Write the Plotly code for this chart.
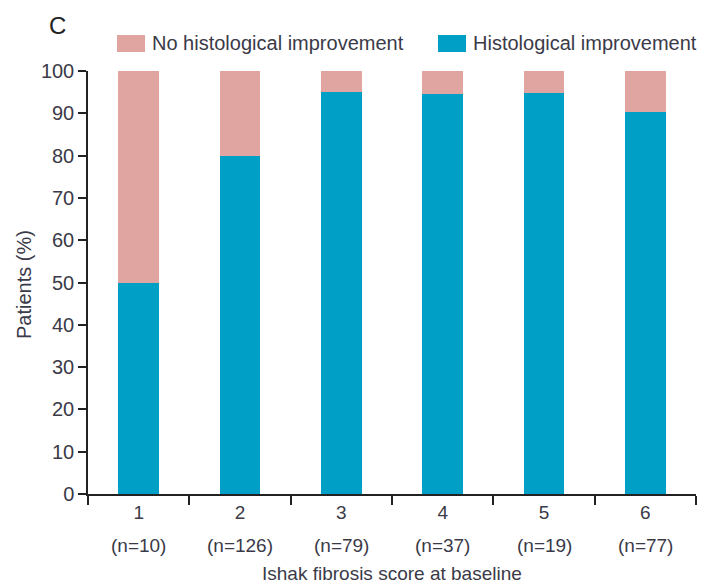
import plotly.graph_objects as go

scores = ["1", "2", "3", "4", "5", "6"]
n_values = [10, 126, 79, 37, 19, 77]
improvement = [50, 80, 95, 94.6, 94.7, 90.3]
no_improvement = [100 - v for v in improvement]
y_ticks = [0, 10, 20, 30, 40, 50, 60, 70, 80, 90, 100]

PINK = "#E0A5A0"
TEAL = "#00A0C6"
TXT = "#3a3a48"
FONT = "Liberation Sans, Arial"

L, R, T, B = 88, 13, 71, 90
W, H = 709, 584
PW, PH = W - L - R, H - T - B


def px(xp):
    return (xp - L) / PW


def py(yp):
    return (H - B - yp) / PH


fig = go.Figure()
fig.add_trace(go.Bar(x=scores, y=improvement, name="Histological improvement",
                     marker=dict(color=TEAL, line=dict(width=0)), showlegend=False))
fig.add_trace(go.Bar(x=scores, y=no_improvement, name="No histological improvement",
                     marker=dict(color=PINK, line=dict(width=0)), showlegend=False))

fig.update_layout(
    barmode="stack", bargap=0.6,
    width=W, height=H,
    margin=dict(l=L, r=R, t=T, b=B, autoexpand=False),
    plot_bgcolor="white", paper_bgcolor="white",
    font=dict(family=FONT, size=19, color=TXT),
)
fig.update_xaxes(
    type="category", tickmode="array", tickvals=scores, ticktext=scores,
    tickson="boundaries", ticks="outside", ticklen=9, tickwidth=1.5, tickcolor="#222",
    showline=True, linecolor="#222", linewidth=1.5, showgrid=False,
    range=[-0.5, 5.5], automargin=False,
    tickfont=dict(family=FONT, size=19, color=TXT),
)
fig.update_yaxes(
    range=[0, 100], tickmode="array", tickvals=y_ticks,
    ticks="outside", ticklen=8, tickwidth=1.5, tickcolor="#222",
    showline=True, linecolor="#222", linewidth=1.5, showgrid=False, zeroline=False,
    automargin=False,
    tickfont=dict(family=FONT, size=20, color=TXT),
)

# n= row under category labels (category index positions)
for i, n in enumerate(n_values):
    fig.add_annotation(text=f"(n={n})", x=i, xref="x", yref="paper", y=py(545),
                       xanchor="center", yanchor="middle", showarrow=False,
                       font=dict(family=FONT, size=19, color=TXT))

# axis titles
fig.add_annotation(text="Ishak fibrosis score at baseline", xref="paper", yref="paper",
                   x=px(392), y=py(573), xanchor="center", yanchor="middle",
                   showarrow=False, font=dict(family=FONT, size=19, color=TXT))
fig.add_annotation(text="Patients (%)", xref="paper", yref="paper",
                   x=px(24), y=py(285), xanchor="center", yanchor="middle",
                   textangle=-90, showarrow=False, font=dict(family=FONT, size=20, color=TXT))

# custom legend
legend_items = [("No histological improvement", PINK, 117, 145),
                ("Histological improvement", TEAL, 438, 466)]
for label, col, x0, x1 in legend_items:
    fig.add_shape(type="rect", xref="paper", yref="paper",
                  x0=px(x0), x1=px(x1), y0=py(52), y1=py(35),
                  fillcolor=col, line=dict(width=0))
    fig.add_annotation(text=label, xref="paper", yref="paper",
                       x=px(x1 + 5), y=py(43),
                       xanchor="left", yanchor="middle", showarrow=False,
                       font=dict(family=FONT, size=20, color=TXT))

fig.add_annotation(text="C", xref="paper", yref="paper",
                   x=px(47), y=py(26), xanchor="left", yanchor="middle", showarrow=False,
                   font=dict(family=FONT, size=24, color="#222"))

fig.write_html("out.html", config={"displayModeBar": False},
               post_script="document.body.style.margin='0';document.body.style.overflow='hidden';")
